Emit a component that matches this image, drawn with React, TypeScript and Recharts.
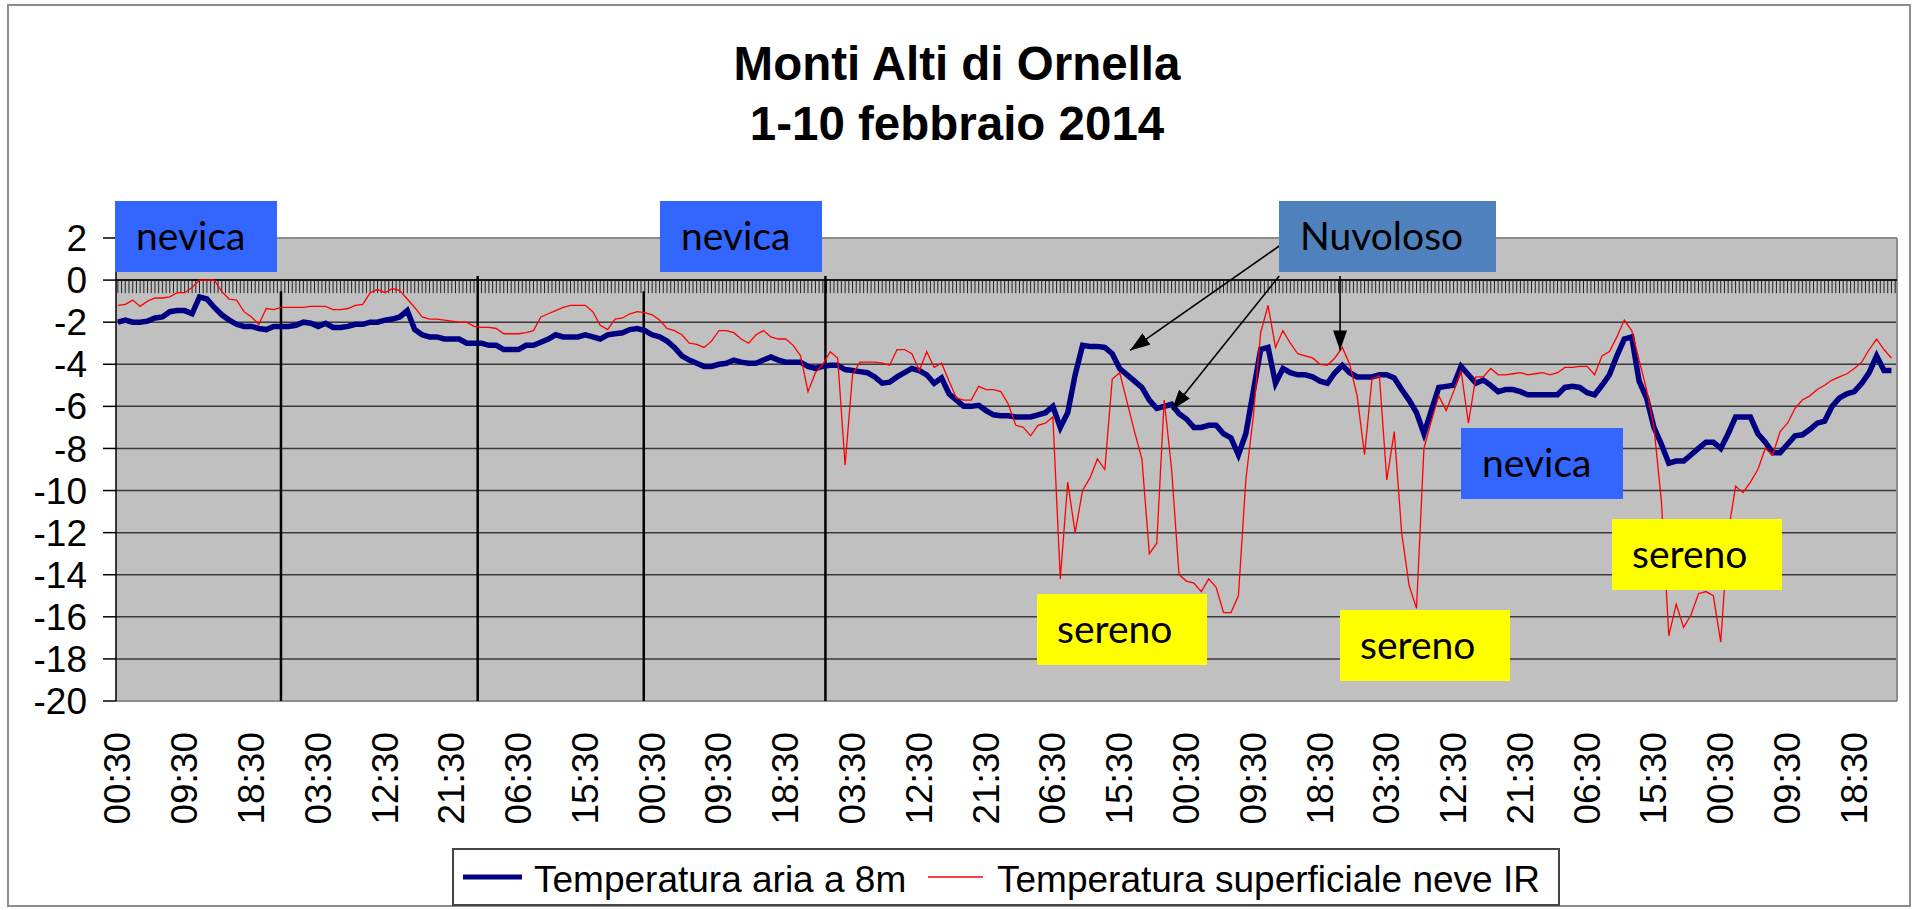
import React from "react";
import { LineChart, Line, XAxis, YAxis, CartesianGrid, ReferenceLine } from "recharts";

// x axis labels, one every 9 hours starting 1 Feb 00:30
const TICK_LABELS = [
  "00:30", "09:30", "18:30", "03:30", "12:30", "21:30", "06:30", "15:30",
  "00:30", "09:30", "18:30", "03:30", "12:30", "21:30", "06:30", "15:30",
  "00:30", "09:30", "18:30", "03:30", "12:30", "21:30", "06:30", "15:30",
  "00:30", "09:30", "18:30",
];
const Y_TICKS = [2, 0, -2, -4, -6, -8, -10, -12, -14, -16, -18, -20];

// hourly readings, 1 Feb 00:30 -> 10 Feb 23:30
const AIR = [
  -2.0, -1.9, -2.0, -2.0, -1.95, -1.8, -1.75, -1.5, -1.45, -1.45,
  -1.6, -0.8, -0.9, -1.3, -1.65, -1.9, -2.1, -2.2, -2.2, -2.3,
  -2.35, -2.2, -2.2, -2.2, -2.15, -2.0, -2.05, -2.2, -2.05, -2.25,
  -2.25, -2.2, -2.1, -2.1, -2.0, -2.0, -1.9, -1.85, -1.75, -1.45,
  -2.35, -2.6, -2.7, -2.7, -2.8, -2.8, -2.8, -3.0, -3.0, -3.0,
  -3.1, -3.1, -3.3, -3.3, -3.3, -3.1, -3.1, -2.95, -2.8, -2.6,
  -2.7, -2.7, -2.7, -2.6, -2.7, -2.8, -2.6, -2.55, -2.5, -2.35,
  -2.3, -2.4, -2.6, -2.7, -2.9, -3.2, -3.6, -3.8, -3.95, -4.1,
  -4.1, -4.0, -3.95, -3.8, -3.9, -3.95, -3.95, -3.8, -3.65, -3.8,
  -3.9, -3.9, -3.9, -4.1, -4.2, -4.1, -4.05, -4.05, -4.25, -4.3,
  -4.35, -4.4, -4.6, -4.9, -4.85, -4.6, -4.4, -4.2, -4.3, -4.5,
  -4.9, -4.65, -5.4, -5.7, -6.0, -6.0, -5.95, -6.2, -6.4, -6.45,
  -6.45, -6.5, -6.5, -6.5, -6.4, -6.3, -6.0, -7.0, -6.3, -4.5,
  -3.1, -3.15, -3.15, -3.2, -3.5, -4.2, -4.5, -4.8, -5.1, -5.7,
  -6.1, -6.0, -5.9, -6.35, -6.6, -7.0, -7.0, -6.9, -6.9, -7.3,
  -7.5, -8.3, -7.3, -5.3, -3.3, -3.2, -4.9, -4.2, -4.4, -4.5,
  -4.5, -4.6, -4.8, -4.9, -4.4, -4.05, -4.4, -4.6, -4.6, -4.6,
  -4.5, -4.5, -4.65, -5.2, -5.7, -6.3, -7.3, -6.2, -5.1, -5.05,
  -5.0, -4.1, -4.5, -4.9, -4.75, -5.0, -5.3, -5.2, -5.2, -5.3,
  -5.45, -5.45, -5.45, -5.45, -5.45, -5.1, -5.05, -5.1, -5.35, -5.45,
  -5.0, -4.5, -3.6, -2.8, -2.7, -4.8, -5.6, -7.0, -7.8, -8.7,
  -8.6, -8.6, -8.3, -8.0, -7.7, -7.7, -8.0, -7.3, -6.5, -6.5,
  -6.5, -7.3, -7.7, -8.2, -8.2, -7.8, -7.4, -7.35, -7.1, -6.8,
  -6.7, -6.0, -5.6, -5.4, -5.3, -4.9, -4.4, -3.6, -4.3, -4.3,
];

const SNOW = [
  -1.2, -1.15, -0.95, -1.25, -1.0, -0.85, -0.85, -0.8, -0.6, -0.6,
  -0.35, 0.0, 0.0, 0.0, -0.55, -0.9, -0.95, -1.5, -1.75, -2.1,
  -1.35, -1.4, -1.3, -1.3, -1.3, -1.3, -1.25, -1.25, -1.25, -1.4,
  -1.4, -1.35, -1.2, -1.15, -0.6, -0.45, -0.6, -0.4, -0.5, -0.9,
  -1.3, -1.75, -1.85, -1.85, -1.9, -1.95, -2.0, -2.0, -2.2, -2.25,
  -2.25, -2.3, -2.55, -2.55, -2.55, -2.5, -2.4, -1.75, -1.6, -1.45,
  -1.3, -1.2, -1.2, -1.2, -1.5, -2.15, -2.35, -1.85, -1.8, -1.6,
  -1.5, -1.55, -1.65, -1.9, -2.3, -2.4, -2.6, -3.0, -3.05, -3.2,
  -2.9, -2.4, -2.4, -2.5, -2.8, -3.0, -2.6, -2.4, -2.7, -2.8,
  -2.8, -3.1, -3.6, -5.3, -4.4, -4.0, -3.4, -3.7, -8.8, -4.5,
  -3.9, -3.9, -3.9, -3.95, -4.05, -3.3, -3.3, -3.5, -4.3, -3.4,
  -4.15, -3.95, -4.8, -5.6, -5.7, -5.7, -5.05, -5.2, -5.2, -5.3,
  -5.9, -6.9, -7.0, -7.4, -6.9, -6.8, -6.5, -14.2, -9.6, -12.0,
  -10.0, -9.4, -8.5, -9.0, -4.7, -4.4, -5.8, -7.2, -8.5, -13.0,
  -12.5, -5.7, -9.0, -14.0, -14.3, -14.4, -14.8, -14.2, -14.6, -15.8,
  -15.8, -15.0, -9.5, -6.5, -2.5, -1.2, -3.2, -2.4, -3.0, -3.5,
  -3.6, -3.7, -4.0, -4.05, -3.7, -3.2, -4.0, -5.5, -8.3, -4.7,
  -4.55, -9.5, -7.2, -12.0, -14.5, -15.6, -8.0, -6.7, -5.5, -6.2,
  -5.3, -4.3, -6.8, -4.6, -4.6, -4.2, -4.5, -4.5, -4.45, -4.4,
  -4.5, -4.45, -4.4, -4.5, -4.4, -4.15, -4.15, -4.1, -4.1, -4.5,
  -3.6, -3.4, -2.7, -1.9, -2.4, -3.8, -5.2, -7.0, -10.5, -16.9,
  -15.4, -16.5, -15.9, -14.9, -14.8, -15.0, -17.2, -12.0, -9.8, -10.1,
  -9.6, -9.0, -8.0, -8.3, -7.2, -6.8, -6.1, -5.7, -5.5, -5.2,
  -5.0, -4.75, -4.6, -4.45, -4.2, -3.9, -3.3, -2.8, -3.3, -3.7,
];

const data = AIR.map((air, h) => ({ h, air, snow: SNOW[h] }));
const X_TICKS = TICK_LABELS.map((_, i) => i * 9);
const MINOR_TICKS = Array.from({ length: 480 }, (_, k) => k * 0.5);

// hand drawn day separators (hour, top value)
const SEPARATORS = [
  { h: 21.98, top: -0.53 },
  { h: 48.49, top: 0.2 },
  { h: 70.87, top: -0.53 },
  { h: 95.35, top: 0.2 },
];

// "Nuvoloso" arrows: from (hour, value) to (hour, value)
const ARROWS = [
  { x1: 156.5, y1: 1.62, x2: 136.4, y2: -3.34 },
  { x1: 156.5, y1: 0.19, x2: 142.05, y2: -6.16 },
  { x1: 164.7, y1: 0.19, x2: 164.7, y2: -3.34 },
];

const BOXES = [
  { text: "nevica", x: 115, y: 201, w: 162, color: "#3366FF", tx: 136 },
  { text: "nevica", x: 660, y: 201, w: 162, color: "#3366FF", tx: 681 },
  { text: "Nuvoloso", x: 1279, y: 201, w: 217, color: "#4F81BD", tx: 1300 },
  { text: "nevica", x: 1461, y: 428, w: 162, color: "#3366FF", tx: 1482 },
  { text: "sereno", x: 1037, y: 594, w: 170, color: "#FFFF00", tx: 1057 },
  { text: "sereno", x: 1340, y: 610, w: 170, color: "#FFFF00", tx: 1360 },
  { text: "sereno", x: 1612, y: 519, w: 170, color: "#FFFF00", tx: 1632 },
];

const FONT = "'Liberation Sans', Arial, sans-serif";
const BOX_FONT = "Lato, 'Open Sans', sans-serif";

const TimeTick = (props: any) => {
  const { x, y, payload } = props;
  const label = TICK_LABELS[Math.round(payload.value / 9)];
  const ty = y + 31;
  return (
    <text
      x={x}
      y={ty}
      transform={`rotate(-90 ${x} ${ty})`}
      textAnchor="end"
      dominantBaseline="central"
      fontSize={37}
      fontFamily={FONT}
      fill="#000"
    >
      {label}
    </text>
  );
};

const ArrowShape = (p: any) => (
  <line x1={p.x1} y1={p.y1} x2={p.x2} y2={p.y2} stroke="#000" strokeWidth={1.6} markerEnd="url(#arrowHead)" />
);

const App = () => {
  return (
    <div style={{ position: "absolute", left: 0, top: 0, width: 1914, height: 910, background: "#fff" }}>
      <LineChart width={1914} height={910} data={data} margin={{ top: 238, right: 17, bottom: 0, left: 0 }}>
        <CartesianGrid vertical={false} fill="#C0C0C0" stroke="#3a3a3a" strokeWidth={1.5} />
        <XAxis
          type="number"
          dataKey="h"
          domain={[-0.25, 239.75]}
          ticks={X_TICKS}
          interval={0}
          allowDataOverflow
          height={209}
          axisLine={false}
          tickLine={false}
          tickSize={0}
          tickMargin={0}
          tick={<TimeTick />}
        />
        <YAxis
          type="number"
          domain={[-20, 2]}
          ticks={Y_TICKS}
          interval={0}
          width={116}
          tickSize={13}
          tickMargin={16}
          axisLine={{ stroke: "#000", strokeWidth: 1.5 }}
          tickLine={{ stroke: "#000", strokeWidth: 1.5 }}
          tick={{ fontSize: 37, fill: "#000", fontFamily: FONT }}
        />
        <ReferenceLine y={2} stroke="#8c8c8c" strokeWidth={2} />
        <ReferenceLine y={-20} stroke="#8c8c8c" strokeWidth={2} />
        <ReferenceLine x={239.75} stroke="#8c8c8c" strokeWidth={2} />
        <ReferenceLine y={0} stroke="#000" strokeWidth={1.5} />
        {MINOR_TICKS.map((h) => (
          <ReferenceLine key={"m" + h} segment={[{ x: h, y: 0 }, { x: h, y: -0.62 }]} stroke="#111" strokeWidth={0.9} />
        ))}
        {SEPARATORS.map((s) => (
          <ReferenceLine key={"s" + s.h} segment={[{ x: s.h, y: s.top }, { x: s.h, y: -20 }]} stroke="#000" strokeWidth={2.5} />
        ))}
        <Line type="linear" dataKey="air" stroke="#000080" strokeWidth={5.5} dot={false} isAnimationActive={false} />
        <Line type="linear" dataKey="snow" stroke="#FF0000" strokeWidth={1.3} dot={false} isAnimationActive={false} />
        {ARROWS.map((a, i) => (
          <ReferenceLine
            key={"a" + i}
            segment={[{ x: a.x1, y: a.y1 }, { x: a.x2, y: a.y2 }]}
            stroke="#000"
            strokeWidth={1.6}
            shape={ArrowShape}
          />
        ))}
      </LineChart>

      <svg
        width={1914}
        height={910}
        style={{ position: "absolute", left: 0, top: 0, pointerEvents: "none" }}
      >
        <defs>
          <marker
            id="arrowHead"
            viewBox="0 0 10 10"
            refX="10"
            refY="5"
            markerWidth="20"
            markerHeight="14"
            markerUnits="userSpaceOnUse"
            orient="auto"
            preserveAspectRatio="none"
          >
            <path d="M0,0 L10,5 L0,10 z" fill="#000" />
          </marker>
        </defs>
        <rect x={8} y={5} width={1902} height={901} fill="none" stroke="#8c8c8c" strokeWidth={2} />
        <text x={957} y={80} textAnchor="middle" fontSize={47.5} fontWeight="bold" fontFamily={FONT} fill="#000">
          Monti Alti di Ornella
        </text>
        <text x={957} y={140} textAnchor="middle" fontSize={47.5} fontWeight="bold" fontFamily={FONT} fill="#000">
          1-10 febbraio 2014
        </text>

        {BOXES.map((b, i) => (
          <g key={i}>
            <rect x={b.x} y={b.y} width={b.w} height={71} fill={b.color} />
            <text x={b.tx} y={b.y + 49} fontSize={39} fontFamily={BOX_FONT} fill="#000">
              {b.text}
            </text>
          </g>
        ))}

        <rect x={453} y={849} width={1106} height={56} fill="#fff" stroke="#444" strokeWidth={2} />
        <line x1={463} x2={522} y1={877} y2={877} stroke="#000080" strokeWidth={5} />
        <text x={534} y={892} fontSize={37} fontFamily={FONT} fill="#000">
          Temperatura aria a 8m
        </text>
        <line x1={928} x2={983} y1={877} y2={877} stroke="#FF0000" strokeWidth={1.5} />
        <text x={997} y={892} fontSize={37} fontFamily={FONT} fill="#000">
          Temperatura superficiale neve IR
        </text>
      </svg>
    </div>
  );
};

export default App;
